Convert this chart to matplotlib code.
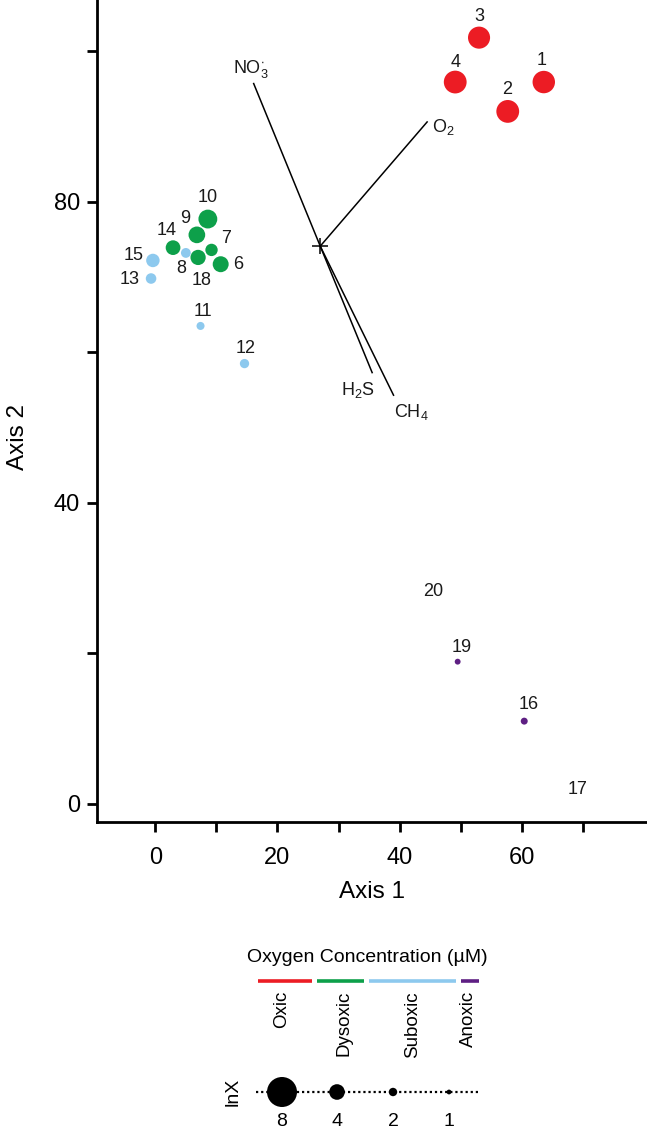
import numpy as np
import matplotlib
matplotlib.use('Agg')
import matplotlib.pyplot as plt
from matplotlib import ticker

plt.rcParams['font.family'] = ['Liberation Sans', 'DejaVu Sans']
plt.rcParams['mathtext.fontset'] = 'custom'
plt.rcParams['mathtext.rm'] = 'Liberation Sans'
plt.rcParams['mathtext.it'] = 'Liberation Sans:italic'
plt.rcParams['mathtext.default'] = 'regular'

# site scores on the ordination axes (site 5 absent)
sites = ['1', '2', '3', '4', '6', '7', '8', '9', '10', '11', '12', '13', '14',
         '15', '16', '17', '18', '19', '20']
axis1 = [63.6, 57.7, 53.0, 49.1, 10.7, 9.2, 5.0, 6.8, 8.6, 7.4, 14.6, -0.7, 2.9,
         -0.4, 60.4, 69.2, 7.0, 49.5, 45.5]
axis2 = [95.9, 92.0, 101.8, 95.9, 71.7, 73.6, 73.2, 75.6, 77.7, 63.5, 58.5, 69.8, 73.9,
         72.2, 11.0, 0.0, 72.6, 18.9, 26.3]
oxygen = ['Oxic', 'Oxic', 'Oxic', 'Oxic', 'Dysoxic', 'Dysoxic', 'Suboxic', 'Dysoxic',
          'Dysoxic', 'Suboxic', 'Suboxic', 'Suboxic', 'Dysoxic', 'Suboxic', 'Anoxic',
          'Anoxic', 'Dysoxic', 'Anoxic', 'Anoxic']
ln_x = [5.9, 6.0, 5.8, 6.0, 4.1, 3.1, 2.4, 4.3, 4.9, 1.9, 2.25, 2.6, 3.75, 3.4, 1.6,
        0.0, 3.9, 1.3, 0.0]

# environmental fitted vectors
env_vars = [r'NO$_3^{\bullet}$', r'O$_2$', r'H$_2$S', r'CH$_4$']
env_origin = (27.0, 74.1)
env_x = [16.1, 44.5, 35.5, 39.0]
env_y = [95.7, 90.6, 57.3, 54.3]

categories = ['Oxic', 'Dysoxic', 'Suboxic', 'Anoxic']
cat_colors = {'Oxic': '#EC1C24', 'Dysoxic': '#0DA04A', 'Suboxic': '#8DC9EE',
              'Anoxic': '#5E1F83'}
legend_sizes = [8, 4, 2, 1]

# layout (pixels, y down)
label_off = {'1': (-2, -22), '2': (-1, -22), '3': (0, -21), '4': (0, -20),
             '6': (18, 0), '7': (15, -11), '8': (-5, 16), '9': (-12, -16),
             '10': (0, -22), '11': (2, -14), '12': (1, -15), '13': (-21, 1),
             '14': (-6, -17), '15': (-19, -5), '16': (4, -17), '17': (0, -14),
             '18': (4, 23), '19': (4, -14), '20': (0, -14)}
env_off = [(-3, -15, 'center'), (5, 5, 'left'), (-14, 17, 'center'), (18, 17, 'center')]

W, H = 647, 1134
DPI = 100


def marker_area(v):
    # diameter in pixels grows linearly with lnX
    d = np.where(np.asarray(v) > 0, 3.6 * np.asarray(v) + 1.2, 0.0)
    return (d * 72.0 / DPI) ** 2


fig = plt.figure(figsize=(W / DPI, H / DPI), dpi=DPI)
ax = fig.add_axes([96.7 / W, (H - 822) / H, 1 - 96.7 / W, 822 / H])

ax.set_xlim(-9.6, 80.5)
ax.set_ylim(-2.4, 106.8)

colors = [cat_colors[o] for o in oxygen]
ax.scatter(axis1, axis2, s=marker_area(ln_x), c=colors, linewidths=0, zorder=3)

for name, x, y in zip(sites, axis1, axis2):
    dx, dy = label_off[name]
    ax.annotate(name, (x, y), xytext=(dx, -dy), textcoords='offset pixels',
                ha='center', va='center', fontsize=13, color='#1a1a1a', zorder=4)

# vectors
for lab, ex, ey, (dx, dy, ha) in zip(env_vars, env_x, env_y, env_off):
    ax.plot([env_origin[0], ex], [env_origin[1], ey], color='black', lw=1.1, zorder=2)
    ax.annotate(lab, (ex, ey), xytext=(dx, -dy), textcoords='offset pixels',
                ha=ha, va='center', fontsize=13, color='#1a1a1a')
ax.plot(*env_origin, marker='+', color='black', markersize=11, mew=1.1, zorder=2)

for side in ['top', 'right']:
    ax.spines[side].set_visible(False)
for side in ['left', 'bottom']:
    ax.spines[side].set_linewidth(2.0)

ax.set_xticks(np.arange(0, 71, 10))
ax.set_yticks(np.arange(0, 101, 20))
ax.xaxis.set_major_formatter(ticker.FuncFormatter(lambda v, p: f'{v:.0f}' if v % 20 == 0 else ''))
ax.yaxis.set_major_formatter(ticker.FuncFormatter(lambda v, p: f'{v:.0f}' if v % 40 == 0 else ''))
ax.tick_params(axis='both', width=2.0, length=7, labelsize=17, color='black')
ax.tick_params(axis='x', pad=11)
ax.tick_params(axis='y', pad=5)
ax.set_xlabel('Axis 1', fontsize=17.5, labelpad=9)
ax.set_ylabel('Axis 2', fontsize=17.5)
ax.yaxis.set_label_coords(-68 / (W - 96.7), (822 - 437) / 822)

# legend drawn on an overlay in pixel space
lax = fig.add_axes([0, 0, 1, 1], zorder=-1)
lax.set_xlim(0, W)
lax.set_ylim(H, 0)
lax.set_axis_off()

lax.text(367, 958, 'Oxygen Concentration (µM)', ha='center', va='center', fontsize=14)
bar_spans = [(258, 312), (317, 364), (369, 456), (461, 479)]
label_x = [282, 344, 413, 468]
for cat, (x0, x1), lx in zip(categories, bar_spans, label_x):
    lax.plot([x0, x1], [981, 981], color=cat_colors[cat], lw=2.6, solid_capstyle='butt')
    lax.text(lx, 991, cat, rotation=90, ha='center', va='top', fontsize=13.5)

size_x = [282, 337, 393, 449]
lax.plot([256, 478], [1092, 1092], color='black', lw=1.6, ls=(0, (1, 1.3)))
lax.scatter(size_x, [1092] * len(size_x), s=marker_area(legend_sizes), c='black',
            linewidths=0, zorder=3)
for sx, v in zip(size_x, legend_sizes):
    lax.text(sx, 1122, str(v), ha='center', va='center', fontsize=14)
lax.text(233, 1092, 'lnX', rotation=90, ha='center', va='center', fontsize=14)

fig.savefig('out.png', dpi=DPI)
